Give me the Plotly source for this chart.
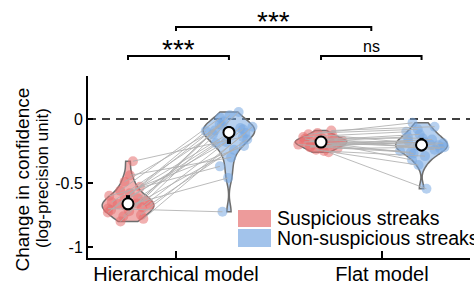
import numpy as np
import plotly.graph_objects as go

# ---------------- data ----------------
categories = ["Hierarchical model", "Flat model"]
category_pos = [0, 1]
series_names = ["Suspicious streaks", "Non-suspicious streaks"]
y_tickvals = [0, -0.5, -1]
y_ticktext = ["0", "-0.5", "-1"]

# paired per-subject values (subject i in the same slot of each list)
hier_susp = [-0.33, -0.70, -0.44, -0.49, -0.53, -0.56, -0.58, -0.60, -0.62, -0.63, -0.64, -0.65,
             -0.66, -0.665, -0.67, -0.68, -0.69, -0.71, -0.72, -0.73, -0.75, -0.76, -0.78, -0.80]
hier_nonsusp = [-0.14, -0.725, -0.30, -0.05, -0.21, 0.01, -0.10, -0.37, -0.07, -0.18, 0.055, -0.12,
                -0.24, -0.04, -0.16, -0.46, -0.08, -0.19, 0.03, -0.095, -0.11, -0.02, -0.06, -0.09]
flat_susp = [-0.26, -0.12, -0.25, -0.24, -0.23, -0.215, -0.21, -0.20, -0.195, -0.19, -0.185, -0.18,
             -0.18, -0.175, -0.17, -0.165, -0.16, -0.155, -0.15, -0.14, -0.13, -0.11, -0.09, -0.22]
flat_nonsusp = [-0.545, -0.03, -0.29, -0.36, -0.22, -0.26, -0.18, -0.25, -0.16, -0.21, -0.23, -0.14,
                -0.20, -0.27, -0.19, -0.12, -0.24, -0.32, -0.15, -0.10, -0.205, -0.08, -0.06, -0.17]

sig_within = ["***", "ns"]
sig_between = "***"

# ---------------- style ----------------
FONT = "Liberation Sans, Arial, sans-serif"
RED = (230, 112, 112)
BLUE = (122, 170, 226)
OUTLINE = "#6e6e6e"
VIOLIN_W = 0.25
# offsets of the two conditions relative to their category tick
offsets = {0: (-0.233, 0.257), 1: (-0.296, 0.192)}
JIT = [0.6, -0.8, 0.2, -0.3, 0.9, -0.5, 0.1, -0.95, 0.45, -0.15, 0.75, -0.65,
       0.35, -0.4, 0.85, -0.1, 0.55, -0.7, 0.05, -0.9, 0.65, -0.25, 0.95, -0.55]
XR = [-0.4272, 1.4272]
YR = [-1.086, 0.336]


def rgba(c, a):
    return "rgba(%d,%d,%d,%s)" % (c[0], c[1], c[2], a)


def bandwidth(v):
    v = np.asarray(v)
    q1, q3 = np.percentile(v, [25, 75])
    a = min(v.std(ddof=1), (q3 - q1) / 1.349)
    return 1.059 * a * len(v) ** -0.2


def density(v, pts):
    v = np.asarray(v)
    bw = bandwidth(v)
    pts = np.asarray(pts)
    return np.exp(-0.5 * ((pts[:, None] - v[None, :]) / bw) ** 2).sum(axis=1)


def jittered_x(v, center):
    grid = np.linspace(min(v), max(v), 200)
    dmax = density(v, grid).max()
    d = density(v, v) / dmax
    amp = VIOLIN_W / 2 * (0.25 + 0.75 * d)
    return [center + j * a for j, a in zip(JIT, amp)]


groups = [
    (0, hier_susp, hier_nonsusp),
    (1, flat_susp, flat_nonsusp),
]

fig = go.Figure()
point_traces, violin_traces, line_traces, summary_traces = [], [], [], []

for ci, a_vals, b_vals in groups:
    xa_c = category_pos[ci] + offsets[ci][0]
    xb_c = category_pos[ci] + offsets[ci][1]
    xa = jittered_x(a_vals, xa_c)
    xb = jittered_x(b_vals, xb_c)
    for vals, xs, xc, col in ((a_vals, xa, xa_c, RED), (b_vals, xb, xb_c, BLUE)):
        point_traces.append(go.Scatter(
            x=xs, y=vals, mode="markers",
            marker=dict(size=10, color=rgba(col, 0.55), line=dict(width=0)),
            showlegend=False, hoverinfo="skip"))
        violin_traces.append(go.Violin(
            x0=xc, y=vals, width=VIOLIN_W, spanmode="hard", points=False,
            fillcolor=rgba(col, 0.55), line=dict(color=OUTLINE, width=1.5),
            box_visible=False, meanline_visible=False, showlegend=False,
            hoverinfo="skip"))
        q1, med, q3 = np.percentile(vals, [25, 50, 75])
        summary_traces.append(go.Scatter(
            x=[xc, xc], y=[q1, q3], mode="lines",
            line=dict(color="black", width=4), showlegend=False, hoverinfo="skip"))
        summary_traces.append(go.Scatter(
            x=[xc], y=[med], mode="markers",
            marker=dict(size=11, color="white", line=dict(color="black", width=2)),
            showlegend=False, hoverinfo="skip"))
    lx, ly = [], []
    for i in range(len(a_vals)):
        lx += [xa[i], xb[i], None]
        ly += [a_vals[i], b_vals[i], None]
    line_traces.append(go.Scatter(
        x=lx, y=ly, mode="lines", line=dict(color="rgba(175,175,175,0.85)", width=1),
        showlegend=False, hoverinfo="skip"))

for t in point_traces + violin_traces + line_traces + summary_traces:
    fig.add_trace(t)

# ---------------- layout ----------------
# page body margin is removed in post_script, so the figure fills the window exactly
OFF = 0
W, H = 474 - OFF, 285 - OFF
L, R, T, B = 88 - OFF, 4, 76 - OFF, 27
PW, PH = W - L - R, H - T - B


def px_x(px):
    """screen x (window pixels) -> paper"""
    return (px - OFF - L) / PW


def px_y(py):
    """screen y (window pixels) -> paper"""
    return (H - B - (py - OFF)) / PH


def data_x(d):
    return (d - XR[0]) / (XR[1] - XR[0])


shapes = []
# dashed zero line
shapes.append(dict(type="line", xref="paper", yref="y", x0=0, x1=1, y0=0, y1=0,
                   line=dict(color="black", width=1.5, dash="8px,6px"), layer="below"))


def bracket(x0, x1, ybar, ytick):
    return dict(type="path", xref="paper", yref="paper",
                path="M %f,%f L %f,%f L %f,%f L %f,%f" % (x0, ytick, x0, ybar, x1, ybar, x1, ytick),
                line=dict(color="black", width=2))


def stars(text, x, yc):
    return dict(text=text, x=x, y=px_y(yc), xref="paper", yref="paper",
                showarrow=False, xanchor="center", yanchor="middle",
                height=22, valign="top", borderpad=0,
                font=dict(size=28, color="black", family=FONT))


annotations = []
for ci in (0, 1):
    xa = data_x(category_pos[ci] + offsets[ci][0])
    xb = data_x(category_pos[ci] + offsets[ci][1])
    shapes.append(bracket(xa, xb, px_y(56), px_y(60)))
    lab = sig_within[ci]
    if lab == "ns":
        annotations.append(dict(text=lab, x=(xa + xb) / 2, y=px_y(47), xref="paper", yref="paper",
                                showarrow=False, xanchor="center", yanchor="middle",
                                font=dict(size=16, color="black", family=FONT)))
    else:
        annotations.append(stars(lab, (xa + xb) / 2, 45))

xt0 = data_x(category_pos[0])
xt1 = data_x((2 * category_pos[1] + offsets[1][0] + offsets[1][1]) / 2)
shapes.append(bracket(xt0, xt1, px_y(27), px_y(31)))
annotations.append(stars(sig_between, (xt0 + xt1) / 2, 17))

# legend (manual, large swatches)
legend_rows = [(series_names[0], RED, 210, 227, 218), (series_names[1], BLUE, 229, 247, 238)]
for name, col, ytop, ybot, yc in legend_rows:
    shapes.append(dict(type="rect", xref="paper", yref="paper",
                       x0=px_x(238), x1=px_x(271), y0=px_y(ybot), y1=px_y(ytop),
                       fillcolor=rgba(col, 0.7), line=dict(width=0)))
    annotations.append(dict(text=name, x=px_x(275), y=px_y(yc), xref="paper", yref="paper",
                            showarrow=False, xanchor="left", yanchor="middle",
                            font=dict(size=19.5, color="black", family=FONT)))

# y-axis title (two lines, different sizes)
annotations.append(dict(text="Change in confidence", x=px_x(22), y=px_y(179.5), xref="paper",
                        yref="paper", showarrow=False, textangle=-90, xanchor="center",
                        yanchor="middle", font=dict(size=19, color="black", family=FONT)))
annotations.append(dict(text="(log-precision unit)", x=px_x(42), y=px_y(178), xref="paper",
                        yref="paper", showarrow=False, textangle=-90, xanchor="center",
                        yanchor="middle", font=dict(size=17, color="black", family=FONT)))

fig.update_layout(
    width=W, height=H,
    margin=dict(l=L, r=R, t=T, b=B, pad=0, autoexpand=False),
    plot_bgcolor="white", paper_bgcolor="white",
    violinmode="overlay",
    showlegend=False,
    hovermode=False,
    shapes=shapes, annotations=annotations,
    font=dict(family=FONT, color="black"),
    xaxis=dict(range=XR, tickvals=category_pos, ticktext=categories, ticks="inside",
               ticklen=7, tickwidth=1.5, tickcolor="black", showline=True, linewidth=2,
               linecolor="black", showgrid=False, zeroline=False, automargin=False,
               ticklabelstandoff=-3,
               tickfont=dict(size=20, family=FONT, color="black")),
    yaxis=dict(range=YR, tickvals=y_tickvals, ticktext=y_ticktext, ticks="inside",
               ticklen=5, tickwidth=1.5, tickcolor="black", showline=True, linewidth=2,
               linecolor="black", showgrid=False, zeroline=False, automargin=False,
               tickfont=dict(size=16, family=FONT, color="black")),
)

fig.write_html("out.html",
               config={"displayModeBar": False},
               post_script="document.body.style.margin='0px';document.body.style.overflow='hidden';")
